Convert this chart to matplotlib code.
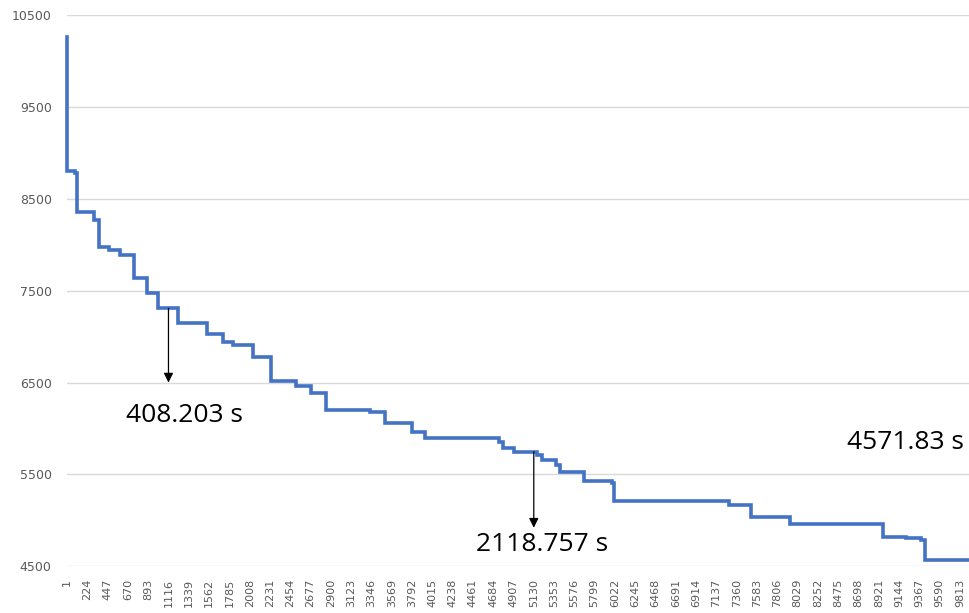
import matplotlib
matplotlib.use("Agg")
import matplotlib.pyplot as plt
import numpy as np

# Best objective value per iteration (step changes only)
step_iters = [1, 2, 89, 107, 295, 353, 463, 580, 738, 878, 1005, 1222, 1544,
              1717, 1820, 2040, 2248, 2516, 2682, 2850, 3334, 3499, 3792, 3939,
              4753, 4797, 4911, 5164, 5222, 5369, 5413, 5680, 5993, 6010, 7272,
              7514, 7943, 8970, 9219, 9380, 9428]
step_values = [10263, 8805, 8776, 8352, 8268, 7978, 7942, 7887, 7640, 7477,
               7307, 7144, 7024, 6937, 6908, 6781, 6516, 6465, 6382, 6201,
               6176, 6056, 5958, 5899, 5856, 5784, 5747, 5711, 5657, 5602,
               5523, 5428, 5403, 5211, 5167, 5040, 4957, 4822, 4805, 4786,
               4571.83]
n_iters = 10000

# Time annotations: (iteration, label)
note_iters = [1116, 5130]
note_tips = [6500, 4920]
note_labels = ["408.203 s", "2118.757 s"]
note_text_pos = [(1293, 6146), (5226, 4732)]
end_label = "4571.83 s"
end_label_pos = (9219, 5842)

y_ticks = [4500, 5500, 6500, 7500, 8500, 9500, 10500]
x_ticks = list(range(1, n_iters + 1, 223))

W, H = 969, 613
fig = plt.figure(figsize=(W / 100, H / 100), dpi=100)
ax = fig.add_axes([67 / W, 1 - 566.3 / H, (977 - 67) / W, (566.3 - 15) / H])

xs = step_iters + [n_iters]
ys = step_values + [step_values[-1]]
ax.step(xs, ys, where="post", color="#4472C4", lw=2.6, solid_joinstyle="miter",
        zorder=3, clip_on=False)

ax.set_xlim(1, n_iters)
ax.set_ylim(4500, 10500)
ax.set_yticks(y_ticks)
ax.set_yticklabels([str(v) for v in y_ticks])
ax.set_xticks(x_ticks)
ax.set_xticklabels([str(v) for v in x_ticks], rotation=90, va="top")
ax.tick_params(axis="both", length=0, colors="#595959")
ax.tick_params(axis="y", pad=11, labelsize=9)
ax.tick_params(axis="x", pad=9, labelsize=8)
for lab in ax.get_xticklabels() + ax.get_yticklabels():
    lab.set_fontfamily("DejaVu Sans")

for s in ax.spines.values():
    s.set_visible(False)
ax.grid(axis="y", color="#d9d9d9", lw=1.0, zorder=0)
ax.grid(axis="x", visible=False)

def value_at(it):
    idx = np.searchsorted(step_iters, it, side="right") - 1
    return step_values[idx]

for it, tip, lab, (tx, ty) in zip(note_iters, note_tips, note_labels, note_text_pos):
    ax.annotate("", xy=(it, tip), xytext=(it, value_at(it)),
                arrowprops=dict(arrowstyle="-|>", color="black", lw=0.9,
                                mutation_scale=14, shrinkA=0, shrinkB=0),
                zorder=4)
    ax.text(tx, ty, lab, ha="center", va="center", fontsize=19,
            fontfamily="Open Sans", color="black")

ax.text(end_label_pos[0], end_label_pos[1], end_label, ha="center", va="center",
        fontsize=19, fontfamily="Open Sans", color="black")

fig.savefig("out.png", dpi=100)
